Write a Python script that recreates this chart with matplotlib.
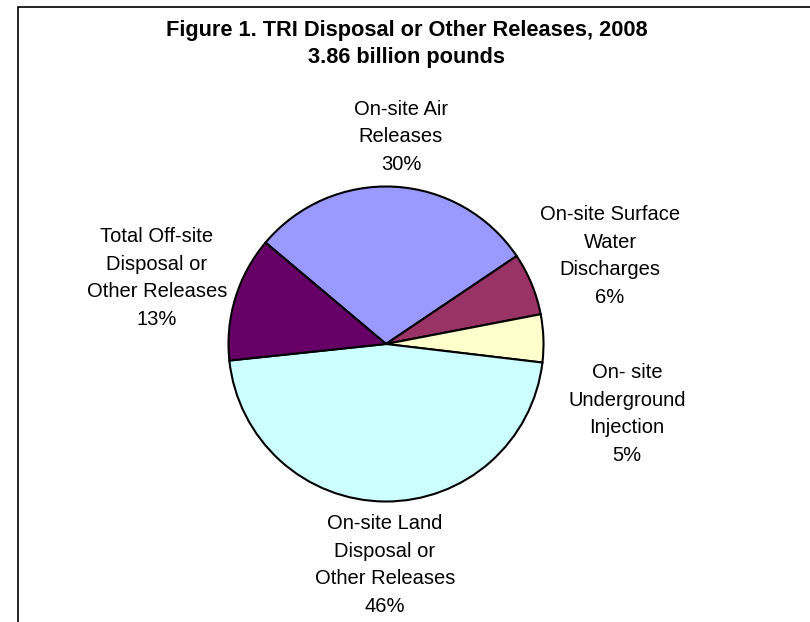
import matplotlib.pyplot as plt
from matplotlib.patches import Rectangle

plt.rcParams['font.family'] = ['Liberation Sans', 'DejaVu Sans']
font_size = 14.5

# slices, clockwise from the upper-left boundary
labels = ['On-site Air\nReleases',
          'On-site Surface\nWater\nDischarges',
          'On- site\nUnderground\nInjection',
          'On-site Land\nDisposal or\nOther Releases',
          'Total Off-site\nDisposal or\nOther Releases']
share = [29.4, 6.4, 4.9, 46.4, 12.8]
pct_text = ['30%', '6%', '5%', '46%', '13%']
colors = ['#9999FF', '#993366', '#FFFFCC', '#CCFFFF', '#660066']

title = 'Figure 1. TRI Disposal or Other Releases, 2008\n3.86 billion pounds'

W, H = 810, 622
fig = plt.figure(figsize=(W / 100, H / 100), dpi=100)
ax = fig.add_axes([0, 0, 1, 1])

ax.pie(share, colors=colors, startangle=139.9, counterclock=False,
       center=(386, H - 344), radius=157.5,
       wedgeprops=dict(edgecolor='black', linewidth=1.5))

# pie() resets the limits, so set them afterwards
ax.set_xlim(0, W)
ax.set_ylim(0, H)
ax.set_aspect('equal')
ax.axis('off')

# chart frame, runs past the right and bottom edges
ax.add_patch(Rectangle((18, -20), 900, H - 7 + 20, fill=False,
                       edgecolor='black', linewidth=1.2))

# label centres (pixels from the top-left)
lab_pos = [(401, 137), (610, 256), (627, 414), (385, 565), (157, 278)]
for lab, pct, (x, y) in zip(labels, pct_text, lab_pos):
    ax.text(x, H - y, lab + '\n' + pct, ha='center', va='center',
            fontsize=font_size, linespacing=1.58)

ax.text(407, H - 44, title, ha='center', va='center', fontsize=15.7,
        fontweight='bold', linespacing=1.36)

fig.savefig('out.png', dpi=100)
